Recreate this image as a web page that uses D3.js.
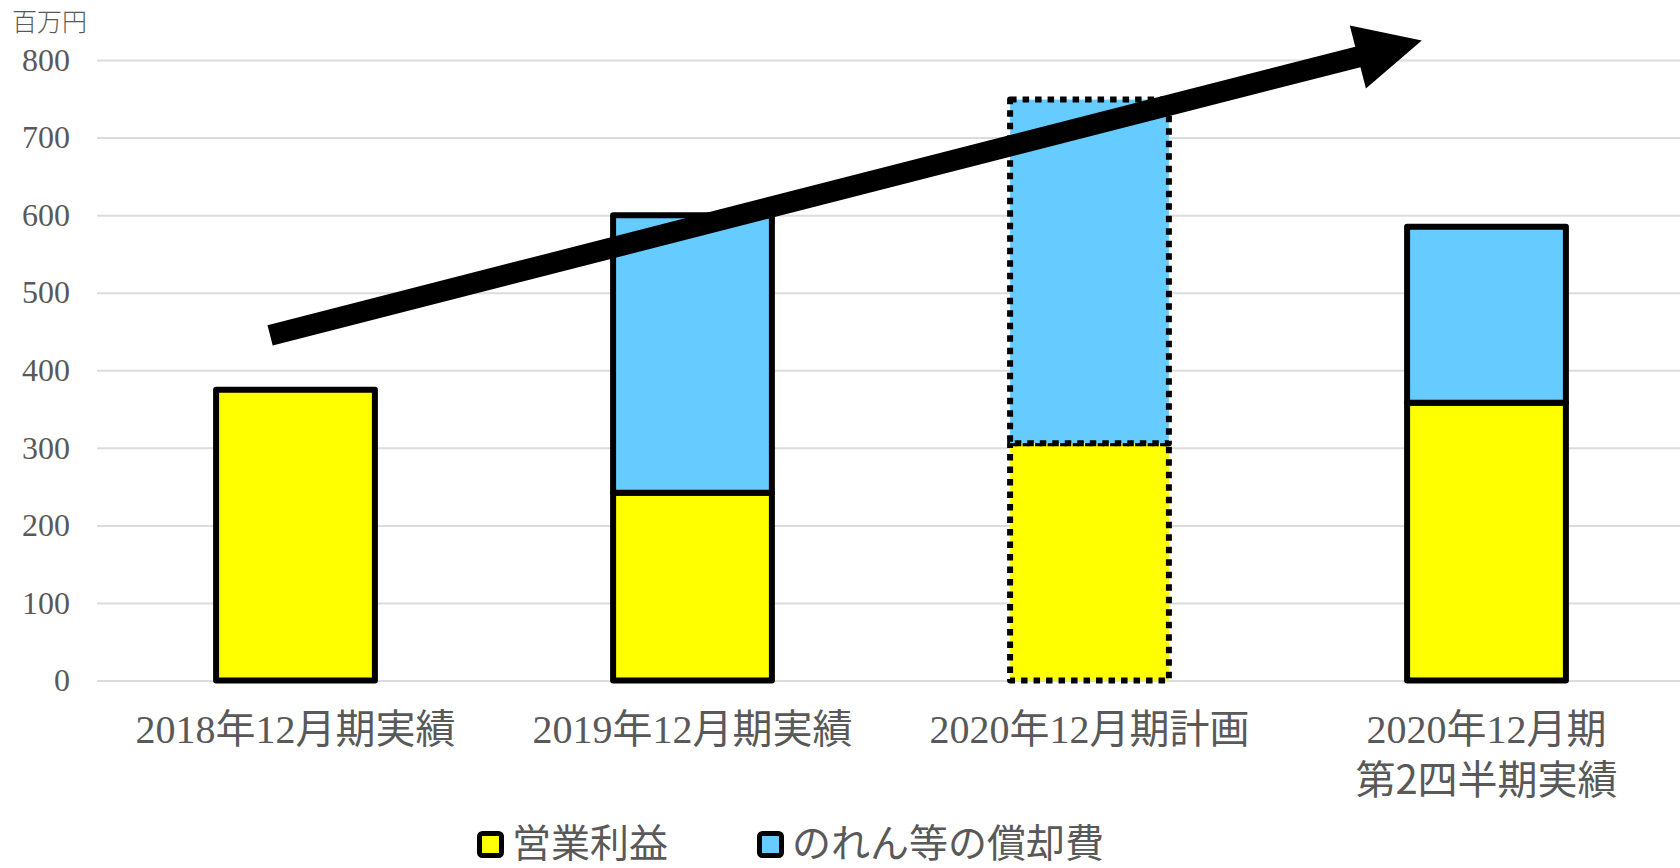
<!DOCTYPE html>
<html>
<head>
<meta charset="utf-8">
<script src="https://cdn.jsdelivr.net/npm/d3@7"></script>
<style>
    body { margin: 0; background: #fff; }
    .chart text { fill: #595959; }
</style>
</head>
<body>
<div class="chart"></div>
<script>
// Chart data
const categories = [
    "2018年12月期実績",
    "2019年12月期実績",
    "2020年12月期計画",
    "2020年12月期\n第2四半期実績",
];
const operatingProfit = [375, 242, 306, 358];
const amortization = [0, 358, 443, 227];
const isPlan = [false, false, true, false];
const yTicks = [0, 100, 200, 300, 400, 500, 600, 700, 800];
const seriesNames = ["営業利益", "のれん等の償却費"];
const unitLabel = "百万円";
// trend arrow in data units: [category position, value]
const trendArrow = { from: [0.436, 445], to: [3.337, 825] };

const colors = ["#FFFF00", "#66CCFF"];

let margin = { top: 60, right: -5, bottom: 187.5, left: 97 };
let fullWidth = 1680;
let fullHeight = 868;
let width = fullWidth - margin.left - margin.right;
let height = fullHeight - margin.top - margin.bottom;

const svg = d3
    .select(".chart")
    .append("svg")
    .attr("width", fullWidth)
    .attr("height", fullHeight)
    .style("display", "block");

const g = svg.append("g").attr("transform", `translate(${margin.left},${margin.top})`);

const y = d3.scaleLinear().domain([0, 800]).range([height, 0]);
const x = d3.scaleBand().domain(categories).range([0, width]).padding(0);
const xPos = d3.scaleLinear().domain([0, categories.length]).range([0, width]);

// gridlines + tick labels
const yAxis = g
    .append("g")
    .call(
        d3.axisLeft(y)
            .tickValues(yTicks)
            .tickSize(-(fullWidth - margin.left))
            .tickPadding(27)
    );
yAxis.select(".domain").remove();
yAxis.selectAll(".tick line").attr("stroke", "#dcdcdc").attr("stroke-width", 2);
yAxis
    .selectAll(".tick text")
    .attr("font-family", "'Liberation Serif', 'Times New Roman', serif")
    .attr("font-size", "32px")
    .attr("fill", "#595959");

svg.append("text")
    .attr("x", 12)
    .attr("y", 31)
    .attr("font-family", "'Noto Sans CJK JP', sans-serif")
    .attr("font-size", "25px")
    .attr("font-weight", 300)
    .text(unitLabel);

// stacked bars
const barW = x.bandwidth() * 0.4;
const rows = categories.map((c, i) => ({
    cat: c,
    plan: isPlan[i],
    segs: [
        { key: 0, y0: 0, y1: operatingProfit[i] },
        { key: 1, y0: operatingProfit[i], y1: operatingProfit[i] + amortization[i] },
    ].filter((s) => s.y1 > s.y0),
}));

g.append("g")
    .selectAll("g")
    .data(rows)
    .join("g")
    .attr("transform", (d) => `translate(${x(d.cat) + (x.bandwidth() - barW) / 2},0)`)
    .each(function (d) {
        d3.select(this)
            .selectAll("rect")
            .data(d.segs)
            .join("rect")
            .attr("x", 0)
            .attr("width", barW)
            .attr("y", (s) => y(s.y1))
            .attr("height", (s) => y(s.y0) - y(s.y1))
            .attr("fill", (s) => colors[s.key])
            .attr("stroke", "#000")
            .attr("stroke-width", 6)
            .attr("stroke-linejoin", "round")
            .attr("stroke-dasharray", d.plan ? "6.5 6" : null);
    });

// category labels
const labels = g
    .append("g")
    .selectAll("text")
    .data(categories)
    .join("text")
    .attr("text-anchor", "middle")
    .attr("font-size", "40px")
    .attr("transform", (d) => `translate(${x(d) + x.bandwidth() / 2},${height + 62.5})`);
labels.each(function (d) {
    const lines = d.split("\n");
    d3.select(this)
        .selectAll("tspan")
        .data(lines)
        .join("tspan")
        .attr("x", 0)
        .attr("dy", (l, i) => (i === 0 ? 0 : 51))
        .attr("font-family", (l, i) =>
            i === 0
                ? "'Liberation Serif', 'Noto Sans CJK JP', serif"
                : "'Noto Sans CJK JP', sans-serif"
        )
        .text((l) => l);
});

// trend arrow
const p0 = [xPos(trendArrow.from[0]), y(trendArrow.from[1])];
const p1 = [xPos(trendArrow.to[0]), y(trendArrow.to[1])];
const len = Math.hypot(p1[0] - p0[0], p1[1] - p0[1]);
const u = [(p1[0] - p0[0]) / len, (p1[1] - p0[1]) / len];
const n = [-u[1], u[0]];
const shaftW = 21, headW = 65, headL = 66;
const base = [p1[0] - u[0] * headL, p1[1] - u[1] * headL];
const pt = (p, k) => [p[0] + n[0] * k, p[1] + n[1] * k];
const arrowPts = [
    pt(p0, shaftW / 2),
    pt(base, shaftW / 2),
    pt(base, headW / 2),
    p1,
    pt(base, -headW / 2),
    pt(base, -shaftW / 2),
    pt(p0, -shaftW / 2),
];
g.append("path")
    .attr("d", "M" + arrowPts.map((p) => p.join(",")).join("L") + "Z")
    .attr("fill", "#000");

// legend
const legendX = [477, 757];
const legend = svg
    .append("g")
    .selectAll("g")
    .data(seriesNames)
    .join("g")
    .attr("transform", (d, i) => `translate(${legendX[i]},831)`);
legend
    .append("rect")
    .attr("x", 2.5)
    .attr("y", 2.5)
    .attr("width", 22)
    .attr("height", 22)
    .attr("rx", 3)
    .attr("fill", (d, i) => colors[i])
    .attr("stroke", "#000")
    .attr("stroke-width", 5);
legend
    .append("text")
    .attr("x", 35)
    .attr("y", 26)
    .attr("font-family", "'Noto Sans CJK JP', sans-serif")
    .attr("font-size", "39px")
    .text((d) => d);
</script>
</body>
</html>
